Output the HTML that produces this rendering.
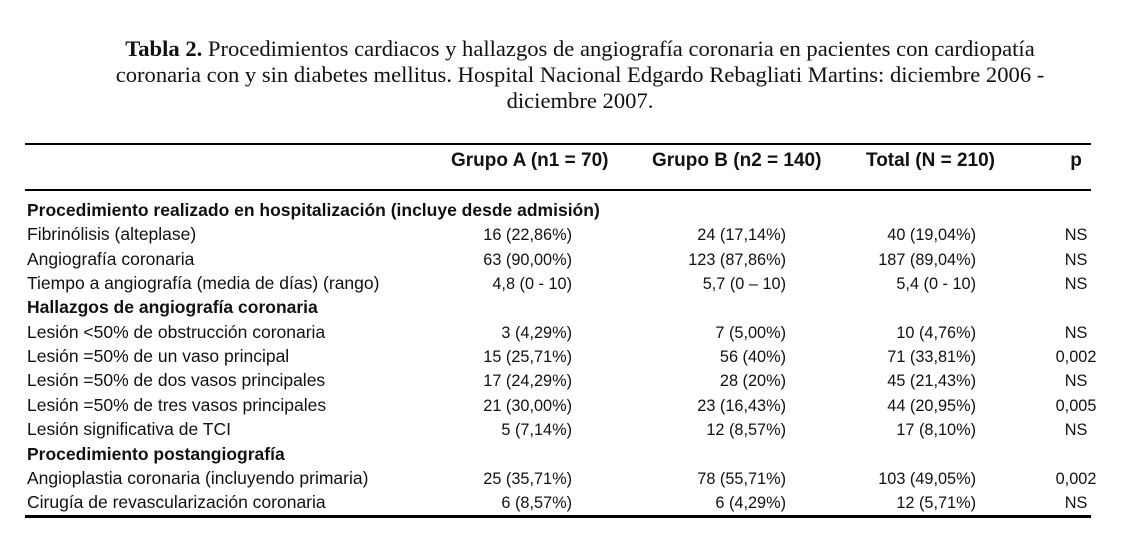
<!DOCTYPE html>
<html><head><meta charset="utf-8"><style>
body{margin:0;width:1131px;height:545px;background:#fff;position:relative;overflow:hidden;font-family:"Liberation Sans",sans-serif;color:#111}
.t{position:absolute;left:0;width:1160px;text-align:center;font-family:"Liberation Serif",serif;font-size:22.6px;line-height:26px;top:36px}
.row{position:absolute;left:27px;white-space:nowrap;line-height:20px;height:20px}
.row span{display:inline-block;font-size:16.3px;vertical-align:baseline}
.row span.lb{font-size:17.5px;width:345px}
.row span.v{text-align:right;width:200px}
.row span.g{width:14px}
.row span.g2{width:-10px}
.row span.p{text-align:center;width:60px}
.h{position:absolute;font-size:19px;font-weight:bold;white-space:nowrap;line-height:22px;top:150px}
.l{position:absolute;left:25px;width:1066px;background:#000}
.c{text-align:center;width:60px}
</style></head><body>
<div class="t"><b>Tabla 2.</b> Procedimientos cardiacos y hallazgos de angiografía coronaria en pacientes con cardiopatía<br>coronaria con y sin diabetes mellitus. Hospital Nacional Edgardo Rebagliati Martins: diciembre 2006 -<br>diciembre 2007.</div>
<div class="l" style="top:143px;height:2px"></div>
<div class="l" style="top:189px;height:2px"></div>
<div class="l" style="top:515px;height:3px"></div>
<div class="h" style="left:451px">Grupo A (n1 = 70)</div>
<div class="h" style="left:652px">Grupo B (n2 = 140)</div>
<div class="h" style="left:866px">Total (N = 210)</div>
<div class="h c" style="left:1046px">p</div>
<div id="rows"></div>
<script>
var rows=[
["Procedimiento realizado en hospitalización (incluye desde admisión)",1],
["Fibrinólisis (alteplase)","16 (22,86%)","24 (17,14%)","40 (19,04%)","NS"],
["Angiografía coronaria","63 (90,00%)","123 (87,86%)","187 (89,04%)","NS"],
["Tiempo a angiografía (media de días) (rango)","4,8 (0 - 10)","5,7 (0 – 10)","5,4 (0 - 10)","NS"],
["Hallazgos de angiografía coronaria",1],
["Lesión <50% de obstrucción coronaria","3 (4,29%)","7 (5,00%)","10 (4,76%)","NS"],
["Lesión =50% de un vaso principal","15 (25,71%)","56 (40%)","71 (33,81%)","0,002"],
["Lesión =50% de dos vasos principales","17 (24,29%)","28 (20%)","45 (21,43%)","NS"],
["Lesión =50% de tres vasos principales","21 (30,00%)","23 (16,43%)","44 (20,95%)","0,005"],
["Lesión significativa de TCI","5 (7,14%)","12 (8,57%)","17 (8,10%)","NS"],
["Procedimiento postangiografía",1],
["Angioplastia coronaria (incluyendo primaria)","25 (35,71%)","78 (55,71%)","103 (49,05%)","0,002"],
["Cirugía de revascularización coronaria","6 (8,57%)","6 (4,29%)","12 (5,71%)","NS"]];
var h="";
rows.forEach(function(r,i){var y=200+i*24.35;
if(r[1]===1){h+='<div class="row" style="top:'+y+'px"><span class="lb" style="font-weight:bold">'+r[0]+'</span></div>';return;}
h+='<div class="row" style="top:'+y+'px"><span class="lb">'+r[0].replace(/</g,"&lt;")+'</span>'+
'<span class="v">'+r[1]+'</span><span class="g"></span><span class="v">'+r[2]+'</span><span style="width:-10px;margin-left:-10px"></span><span class="v">'+r[3]+'</span><span style="width:70px"></span><span class="p">'+r[4]+'</span></div>';});
document.getElementById("rows").innerHTML=h;
</script>
</body></html>
